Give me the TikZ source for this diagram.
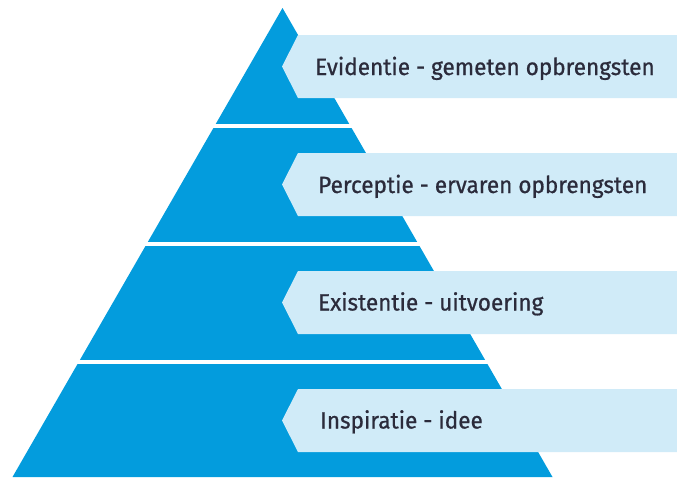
\documentclass[tikz,border=0pt]{standalone}
\usepackage{fontspec}
\setmainfont{Fira Sans}[FakeStretch=0.96,FakeBold=0.7]
\definecolor{pyrblue}{HTML}{039CDD}
\definecolor{boxblue}{HTML}{D0EBF8}
\definecolor{txt}{HTML}{2B2B3B}
\tikzset{
  layerbox/.style={fill=boxblue, draw=none},
  gapband/.style={fill=white, draw=none},
  lbl/.style={anchor=base west, inner sep=0pt, text=txt, font=\fontsize{23.5}{28}\selectfont}
}
\begin{document}
\begin{tikzpicture}[x=1pt,y=-1pt]
\useasboundingbox (0,0) rectangle (677,477);
% pyramid
\coordinate (apex) at (282.5,8);
\coordinate (bl) at (12.5,477);
\coordinate (br) at (552.5,477);
\fill[pyrblue] (apex) -- (br) -- (bl) -- cycle;
% white gaps between layers
\fill[gapband] (0,123.5) rectangle (677,127.5);
\fill[gapband] (0,241.5) rectangle (677,245.5);
\fill[gapband] (0,360) rectangle (677,364);
% label boxes
\foreach \t in {35,153,271,389}{
  \fill[layerbox] (298,\t) -- (677,\t) -- (677,\t+63) -- (298,\t+63) -- (282,\t+31.5) -- cycle;
}
% labels
\node[lbl] (l1) at (315,75) {Evidentie - gemeten opbrengsten};
\node[lbl] (l2) at (318,193) {Perceptie - ervaren opbrengsten};
\node[lbl] (l3) at (318,310.5) {Existentie - uitvoering};
\node[lbl] (l4) at (320,428.5) {Inspiratie - idee};
\end{tikzpicture}
\end{document}
